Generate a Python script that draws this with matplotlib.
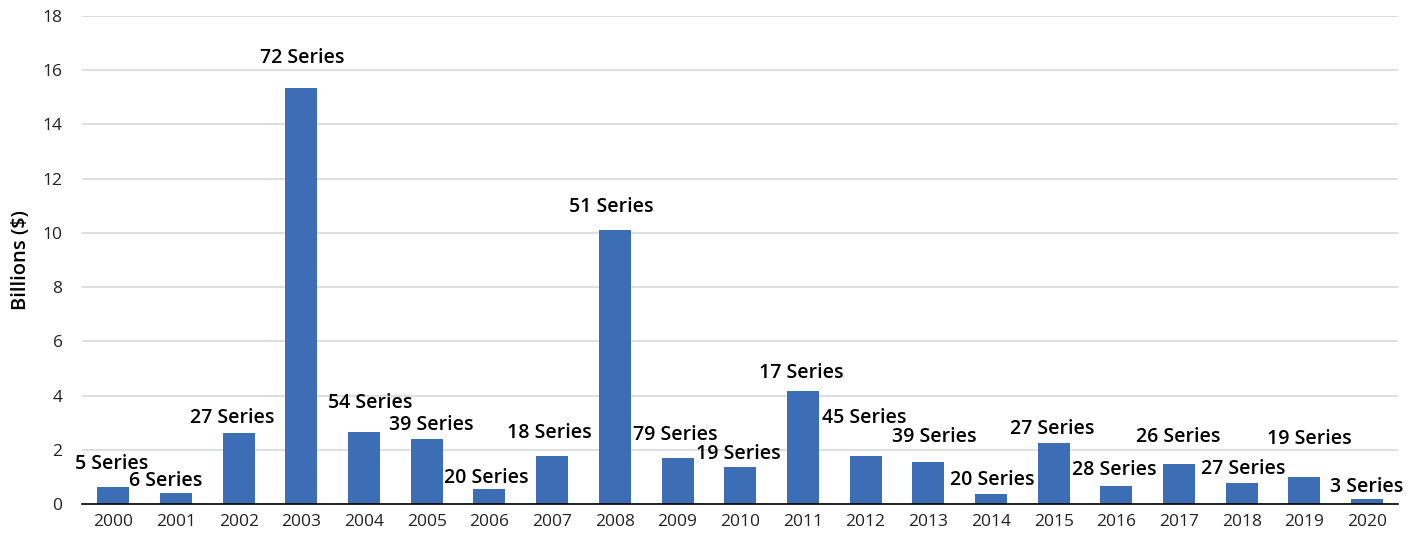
import matplotlib.pyplot as plt
import numpy as np

years = [str(y) for y in range(2000, 2021)]
billions = [0.62, 0.42, 2.60, 15.34, 2.65, 2.41, 0.54, 1.77, 10.11, 1.71, 1.35,
            4.17, 1.77, 1.54, 0.37, 2.25, 0.66, 1.48, 0.77, 1.01, 0.20]
series_count = [5, 6, 27, 72, 54, 39, 20, 18, 51, 79, 19,
                17, 45, 39, 20, 27, 28, 26, 27, 19, 3]

# where the callouts sit (x shift in bar units, y in data units)
label_dx = [-0.02, -0.16, -0.1, 0.02, 0.1, 0.08, -0.05, -0.05, -0.05, -0.03, -0.03,
            -0.03, -0.02, 0.1, 0.02, -0.03, -0.03, -0.02, 0.03, 0.08, 0.0]
label_y = [1.48, 0.85, 3.17, 16.46, 3.73, 2.92, 0.96, 2.62, 10.96, 2.55, 1.85,
           4.83, 3.17, 2.47, 0.89, 2.77, 1.25, 2.47, 1.29, 2.40, 0.63]

plt.rcParams['font.family'] = ['Open Sans', 'DejaVu Sans']

fig = plt.figure(figsize=(14.14, 5.35), dpi=100)
ax = fig.add_axes([0.058, 0.058, 0.931, 0.912])

x = np.arange(len(years))
ax.bar(x, billions, width=0.51, color='#3d6db5', zorder=3)

for i, n in enumerate(series_count):
    ax.text(x[i] + label_dx[i], label_y[i], f'{n} Series', ha='center', va='center',
            fontsize=14, fontweight='semibold', color='black', zorder=4)

ax.set_xlim(-0.5, len(years) - 0.5)
ax.set_ylim(0, 18)
ax.set_yticks(range(0, 19, 2))
ax.set_xticks(x)
ax.set_xticklabels(years)
ax.tick_params(axis='both', length=0, labelsize=12.5, colors='#222222')
ax.tick_params(axis='x', pad=7)
ax.tick_params(axis='y', pad=14)
ax.yaxis.grid(True, color='#d9d9d9', linewidth=1.2, zorder=0)
ax.set_axisbelow(True)
for s in ['top', 'right', 'left']:
    ax.spines[s].set_visible(False)
ax.spines['bottom'].set_color('black')
ax.spines['bottom'].set_linewidth(1.2)
ax.spines['bottom'].set_zorder(5)
ax.set_ylabel('Billions ($)', fontsize=14.5, fontweight='semibold', labelpad=8)

fig.savefig('out.png', dpi=100)
